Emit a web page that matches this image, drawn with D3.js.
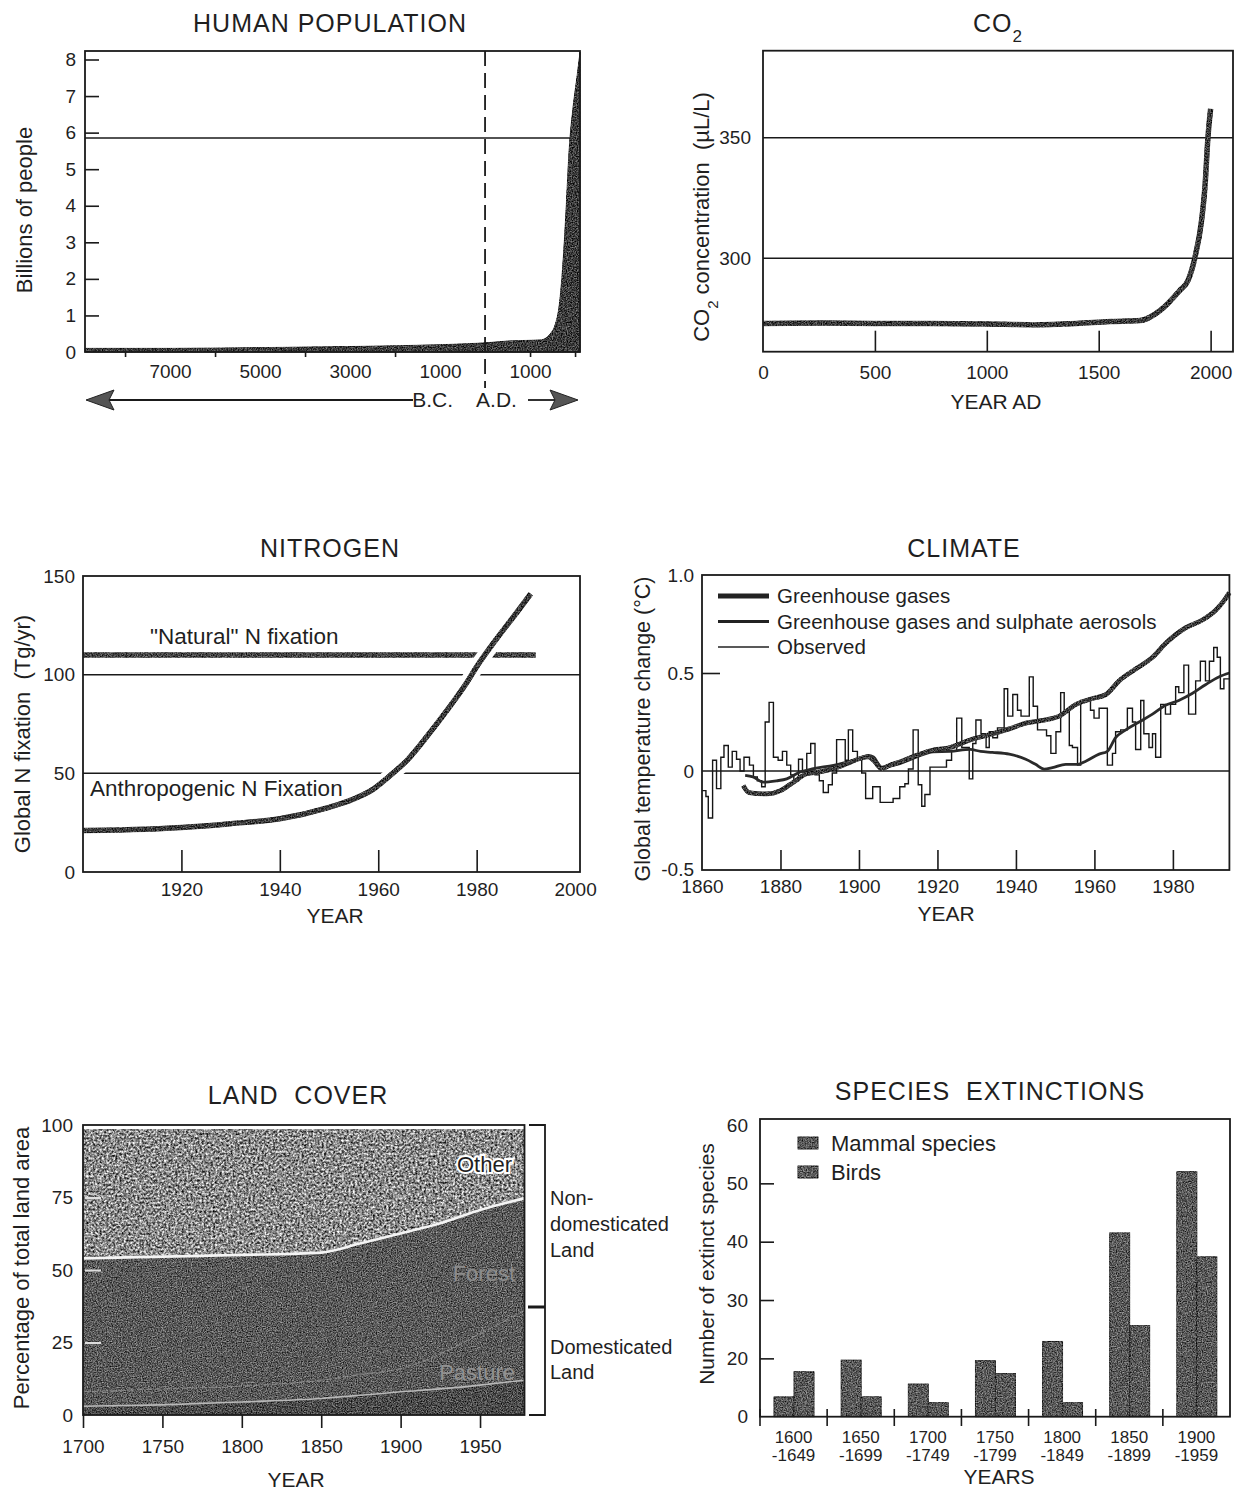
<!DOCTYPE html>
<html>
<head>
<meta charset="utf-8">
<script src="https://cdn.jsdelivr.net/npm/d3@7"></script>
<style>
  body { margin: 0; background: #fff; }
  svg text { font-family: "Liberation Sans", Arial, Helvetica, sans-serif; fill: #1f1f1f; }
  .tick text { font-size: 19px; }
  .tick line { stroke: #1a1a1a; stroke-width: 1.6px; }
  .frame { fill: none; stroke: #1a1a1a; stroke-width: 1.8px; }
  .grid { stroke: #1a1a1a; stroke-width: 1.5px; }
  .title { font-size: 25px; letter-spacing: 1px; text-anchor: middle; white-space: pre; }
  .axlab { font-size: 21px; text-anchor: middle; white-space: pre; }
</style>
</head>
<body>
<script>
// ---------- data ----------
// human population (billions), years as drawn (negative = B.C.)
var popYears  = [-8890, -7000, -5000, -3000, -1000, 0, 500, 1000, 1250, 1320, 1450, 1556, 1650, 1711, 1760, 1800, 1867, 1956, 2040, 2110];
var popValues = [0.1, 0.1, 0.12, 0.15, 0.2, 0.25, 0.3, 0.32, 0.33, 0.36, 0.5, 0.74, 1.3, 2.1, 3.0, 3.9, 5.5, 6.7, 7.5, 8.2];
var popRefLine = 5.85;
var popTickYears  = [-7000, -5000, -3000, -1000, 1000];
var popTickLabels = ["7000", "5000", "3000", "1000", "1000"];
var popMinorYears = [-8000, -6000, -4000, -2000, 1000, 2000];

// CO2 (uL/L)
var co2Years  = [0, 250, 500, 750, 1000, 1200, 1400, 1550, 1684, 1773, 1862, 1900, 1929, 1960, 1975, 1988, 2000];
var co2Values = [273, 273.2, 273, 273, 272.8, 272.5, 273, 273.8, 274.2, 278.3, 286.7, 291, 300, 316, 330, 350, 362];

// nitrogen fixation (Tg/yr)
var nYears  = [1900, 1910, 1920, 1930, 1940, 1950, 1955, 1959, 1962, 1966, 1970, 1974, 1978, 1980, 1984, 1988, 1991];
var nAnthro = [21, 21.5, 22.6, 24.5, 27, 32.8, 37, 42, 48, 57, 69, 82, 96, 104, 118, 131, 141];
var natYears  = [1900, 1992];
var natValues = [110, 110];

// climate (deg C)
var ghgYears  = [1870.5, 1872, 1876.5, 1880, 1883.3, 1886.7, 1890, 1893.5, 1897, 1900.3, 1902.4, 1903.7, 1905.8, 1907.9, 1910.4, 1914.7, 1918.9, 1923.2, 1928.3, 1934.1, 1938.3, 1942.5, 1946.8, 1951, 1955.3, 1959.5, 1962.9, 1966.3, 1970.5, 1974.8, 1978.1, 1983.2, 1987.5, 1990.9, 1993.4, 1994.4];
var ghgValues = [-0.074, -0.11, -0.117, -0.1, -0.057, -0.014, -0.005, 0.012, 0.038, 0.064, 0.072, 0.055, 0.012, 0.03, 0.046, 0.08, 0.107, 0.12, 0.158, 0.19, 0.215, 0.244, 0.258, 0.28, 0.34, 0.37, 0.39, 0.46, 0.52, 0.58, 0.65, 0.73, 0.77, 0.82, 0.88, 0.91];
var aerYears  = [1871, 1873, 1875.6, 1879, 1881.6, 1885, 1888.4, 1893.5, 1897, 1900.3, 1902.4, 1903.7, 1905.8, 1910.4, 1914.7, 1918.9, 1923.2, 1928.3, 1931, 1934, 1938.3, 1942.5, 1945, 1947.2, 1949.3, 1952.7, 1955.7, 1957.8, 1961.2, 1963.3, 1965.4, 1968, 1971.4, 1974.8, 1978.1, 1981.5, 1984.9, 1988.3, 1991.7, 1994.4];
var aerValues = [-0.022, -0.03, -0.057, -0.05, -0.04, -0.005, 0.012, 0.029, 0.046, 0.064, 0.08, 0.072, 0.02, 0.038, 0.072, 0.098, 0.1, 0.11, 0.1, 0.095, 0.086, 0.06, 0.034, 0.01, 0.017, 0.034, 0.034, 0.05, 0.086, 0.1, 0.17, 0.21, 0.25, 0.29, 0.335, 0.36, 0.395, 0.44, 0.48, 0.5];
var obsYears  = [1860, 1861, 1861.6, 1862.7, 1863.7, 1864.8, 1865.6, 1866.7, 1867.7, 1868.8, 1869.7, 1870.7, 1872.1, 1873.1, 1874.1, 1875.2, 1876.1, 1877.1, 1878.2, 1879.4, 1880.5, 1881.6, 1882.6, 1883.4, 1884.6, 1885.6, 1886.7, 1887.7, 1888.8, 1889.9, 1890.9, 1892.2, 1893.2, 1894.3, 1896.5, 1897.3, 1898.4, 1899.6, 1900.7, 1901.7, 1903.5, 1905.4, 1908.7, 1910.4, 1911.7, 1912.6, 1913.8, 1915.1, 1916, 1916.8, 1918.1, 1922.3, 1923.6, 1924.9, 1926.2, 1928.1, 1929, 1929.8, 1931.1, 1932.4, 1933.2, 1934.1, 1935.3, 1937, 1937.9, 1939.2, 1940.4, 1941.3, 1943.4, 1944.4, 1945.5, 1947.8, 1948.9, 1950.2, 1951.4, 1952.3, 1953.6, 1954.4, 1955.7, 1956.5, 1959, 1959.9, 1961.2, 1963.3, 1964.6, 1965.4, 1966.7, 1968.4, 1969.7, 1970.5, 1971.8, 1972.6, 1973.9, 1974.8, 1975.6, 1976.9, 1978.1, 1979.4, 1980.7, 1981.5, 1982.8, 1984, 1985.8, 1987, 1988.3, 1989.3, 1990.4, 1991.3, 1992.1, 1993, 1994.4];
var obsValues = [-0.1, -0.13, -0.24, 0.055, -0.09, 0.07, 0.13, 0.02, 0.1, 0.06, 0, 0.07, 0.03, -0.03, -0.05, -0.08, 0.25, 0.35, 0.07, 0.055, 0.1, 0.03, -0.02, -0.05, 0.06, -0.005, 0.09, 0.14, -0.02, -0.05, -0.11, -0.07, -0.01, 0.16, 0.055, 0.21, 0.1, 0.06, -0.01, -0.14, -0.08, -0.16, -0.14, -0.08, -0.065, 0.01, 0.21, -0.07, -0.18, -0.12, 0.02, 0.055, 0.1, 0.27, 0.12, -0.04, 0.14, 0.26, 0.19, 0.12, 0.2, 0.17, 0.22, 0.42, 0.28, 0.39, 0.31, 0.28, 0.48, 0.33, 0.21, 0.18, 0.09, 0.2, 0.4, 0.31, 0.13, 0.12, 0.03, 0.36, 0.31, 0.27, 0.32, 0.03, 0.09, 0.2, 0.21, 0.32, 0.25, 0.11, 0.36, 0.19, 0.12, 0.19, 0.07, 0.34, 0.29, 0.34, 0.43, 0.4, 0.54, 0.29, 0.46, 0.56, 0.46, 0.56, 0.63, 0.58, 0.42, 0.47, 0.47];
var climLegend = ["Greenhouse gases", "Greenhouse gases and sulphate aerosols", "Observed"];

// land cover (% of total land area, cumulative tops)
var landYears  = [1700, 1750, 1800, 1850, 1875, 1900, 1925, 1950, 1978];
var cropTop    = [3, 3.5, 4.5, 5.7, 6.8, 8, 9, 10.3, 12];
var pastureTop = [8, 9, 10, 12, 14, 16, 21, 28, 36];
var forestTop  = [54, 54.6, 55.2, 56, 59.2, 62.6, 66.1, 70.7, 74.7];
var otherTop   = [98.5, 98.5, 98.5, 98.5, 98.5, 98.5, 98.5, 98.5, 98.5];

// species extinctions (values in the printed grid units)
var periodStart = ["1600", "1650", "1700", "1750", "1800", "1850", "1900"];
var periodEnd   = ["-1649", "-1699", "-1749", "-1799", "-1849", "-1899", "-1959"];
var mammals = [13.4, 19.7, 15.6, 19.6, 22.9, 41.5, 52];
var birds   = [17.7, 13.4, 12.4, 17.4, 12.4, 25.6, 37.4];
var spTickValues = [10, 20, 30, 40, 50, 60];
var spTickLabels = ["0", "20", "30", "40", "50", "60"];

// ---------- helpers ----------
var W = 1242, H = 1492;
var svg = d3.select("body").append("svg").attr("width", W).attr("height", H);
var defs = svg.append("defs");

function grain(id, amount, freq, oct) {
  var f = defs.append("filter").attr("id", id)
    .attr("filterUnits", "userSpaceOnUse").attr("x", 0).attr("y", 0).attr("width", W).attr("height", H)
    .attr("color-interpolation-filters", "sRGB");
  f.append("feTurbulence").attr("type", "fractalNoise").attr("baseFrequency", freq)
    .attr("numOctaves", oct).attr("seed", 5).attr("result", "noise");
  f.append("feColorMatrix").attr("in", "noise").attr("type", "matrix")
    .attr("values", "1 0 0 0 0  1 0 0 0 0  1 0 0 0 0  0 0 0 0 1").attr("result", "gray");
  f.append("feComposite").attr("in", "SourceGraphic").attr("in2", "gray").attr("operator", "arithmetic")
    .attr("k1", 0).attr("k2", 1).attr("k3", amount).attr("k4", -amount / 2).attr("result", "mix");
  f.append("feComposite").attr("in", "mix").attr("in2", "SourceAlpha").attr("operator", "in");
}
grain("grain", 0.9, 0.8, 2);
grain("grainStrong", 1.5, 0.45, 3);

function frame(x0, y0, x1, y1) {
  svg.append("rect").attr("class", "frame")
    .attr("x", x0).attr("y", y0).attr("width", x1 - x0).attr("height", y1 - y0);
}
function hline(x0, x1, yy, cls) {
  return svg.append("line").attr("class", cls || "grid")
    .attr("x1", x0).attr("x2", x1).attr("y1", yy).attr("y2", yy);
}
function title(x, y) {
  return svg.append("text").attr("class", "title").attr("x", x).attr("y", y).attr("dy", "0.35em");
}
function label(x, y, rotate) {
  return svg.append("text").attr("class", "axlab").attr("dy", "0.35em")
    .attr("transform", "translate(" + x + "," + y + ")" + (rotate ? " rotate(-90)" : ""));
}
function axis(gen, tx, ty) {
  var a = svg.append("g").attr("transform", "translate(" + tx + "," + ty + ")").call(gen);
  a.select(".domain").remove();
  a.attr("font-size", null).attr("font-family", null);
  return a;
}
function pairs(xs, ys) { return xs.map(function (d, i) { return [d, ys[i]]; }); }
var plain = d3.format("d");

// ---------- HUMAN POPULATION ----------
var px = d3.scaleLinear().domain([-8890, 2110]).range([85, 580]);
var py = d3.scaleLinear().domain([0, 8]).range([352, 59.5]);

hline(85, 580, py(popRefLine));
svg.append("path").datum(pairs(popYears, popValues))
  .attr("d", d3.area().x(d => px(d[0])).y0(py(0)).y1(d => py(d[1])).curve(d3.curveMonotoneX))
  .attr("fill", "#3c3c3c").attr("stroke", "#2a2a2a").attr("stroke-width", 1)
  .attr("filter", "url(#grain)");
svg.append("line").attr("x1", px(0)).attr("x2", px(0)).attr("y1", 51).attr("y2", 388)
  .attr("stroke", "#1a1a1a").attr("stroke-width", 1.8).attr("stroke-dasharray", "15,7");
frame(85, 51, 580, 352);

var pya = axis(d3.axisLeft(py).tickValues(d3.range(0, 9)).tickSizeInner(-14).tickSizeOuter(0).tickPadding(9), 85, 0);
pya.selectAll(".tick").filter(d => d === 0).select("line").remove();
axis(d3.axisBottom(px).tickValues(popTickYears).tickFormat((d, i) => popTickLabels[i]).tickSize(0).tickPadding(13), 0, 352);
axis(d3.axisBottom(px).tickValues(popMinorYears).tickFormat("").tickSizeInner(5).tickSizeOuter(0), 0, 352);

// B.C. / A.D. arrows
svg.append("line").attr("x1", 108).attr("x2", 413).attr("y1", 400).attr("y2", 400).attr("stroke", "#1a1a1a").attr("stroke-width", 1.8);
svg.append("path").attr("d", "M86,400 L114,390 L109,400 L114,410 Z").attr("fill", "#555").attr("stroke", "#222");
svg.append("line").attr("x1", 528).attr("x2", 556).attr("y1", 400).attr("y2", 400).attr("stroke", "#1a1a1a").attr("stroke-width", 1.8);
svg.append("path").attr("d", "M578,400 L550,390 L555,400 L550,410 Z").attr("fill", "#555").attr("stroke", "#222");
svg.append("text").attr("x", px(0) - 32).attr("y", 400).attr("dy", "0.35em").attr("text-anchor", "end")
  .style("font-size", "21px").text("B.C.");
svg.append("text").attr("x", px(0) - 9).attr("y", 400).attr("dy", "0.35em")
  .style("font-size", "21px").text("A.D.");

title(330, 23).text("HUMAN POPULATION");
label(24, 210, true).style("font-size", "22px").text("Billions of people");

// ---------- CO2 ----------
var cx = d3.scaleLinear().domain([0, 2100]).range([763, 1233]);
var cy = d3.scaleLinear().domain([261.3, 386.1]).range([351.7, 50.7]);

[300, 350].forEach(v => hline(763, 1233, cy(v)));
svg.append("path").datum(pairs(co2Years, co2Values))
  .attr("d", d3.line().x(d => cx(d[0])).y(d => cy(d[1])).curve(d3.curveMonotoneX))
  .attr("fill", "none").attr("stroke", "#3a3a3a").attr("stroke-width", 5.5)
  .attr("filter", "url(#grain)");
frame(763, 50.7, 1233, 351.7);
axis(d3.axisBottom(cx).tickValues([500, 1000, 1500, 2000]).tickFormat("").tickSizeInner(-21).tickSizeOuter(0), 0, 351.7);
axis(d3.axisBottom(cx).tickValues([0, 500, 1000, 1500, 2000]).tickFormat(plain).tickSize(0).tickPadding(14), 0, 351.7);
axis(d3.axisLeft(cy).tickValues([300, 350]).tickFormat(plain).tickSize(0).tickPadding(12), 763, 0);

var ct = title(998, 23).text("CO");
ct.append("tspan").attr("baseline-shift", "sub").style("font-size", "17px").text("2");
var cl = label(701, 217, true).style("font-size", "22px").text("CO");
cl.append("tspan").attr("baseline-shift", "sub").style("font-size", "15px").text("2");
cl.append("tspan").text(" concentration  (\u00b5L/L)");
label(996, 402).style("font-size", "21px").text("YEAR AD");

// ---------- NITROGEN ----------
var nx = d3.scaleLinear().domain([1900, 2001]).range([83, 580]);
var ny = d3.scaleLinear().domain([0, 150]).range([872, 576]);

[50, 100].forEach(v => hline(83, 580, ny(v)));
svg.append("path").datum(pairs(natYears, natValues))
  .attr("d", d3.line().x(d => nx(d[0])).y(d => ny(d[1])))
  .attr("fill", "none").attr("stroke", "#444").attr("stroke-width", 5.5).attr("filter", "url(#grain)");
var nLine = d3.line().x(d => nx(d[0])).y(d => ny(d[1])).curve(d3.curveMonotoneX);
svg.append("path").datum(pairs(nYears, nAnthro)).attr("d", nLine)
  .attr("fill", "none").attr("stroke", "#fff").attr("stroke-width", 15);
svg.append("path").datum(pairs(nYears, nAnthro)).attr("d", nLine)
  .attr("fill", "none").attr("stroke", "#3a3a3a").attr("stroke-width", 5.5).attr("filter", "url(#grain)");
frame(83, 576, 580, 872);
axis(d3.axisBottom(nx).tickValues([1920, 1940, 1960, 1980]).tickFormat("").tickSizeInner(-22).tickSizeOuter(0), 0, 872);
axis(d3.axisBottom(nx).tickValues([1920, 1940, 1960, 1980, 2000]).tickFormat(plain).tickSize(0).tickPadding(11), 0, 872);
axis(d3.axisLeft(ny).tickValues([0, 50, 100, 150]).tickFormat(plain).tickSize(0).tickPadding(8), 83, 0);

svg.append("text").attr("x", 150).attr("y", 636).attr("dy", "0.35em").style("font-size", "22.5px").text("\"Natural\" N fixation");
svg.append("text").attr("x", 90).attr("y", 788).attr("dy", "0.35em").style("font-size", "22.5px").text("Anthropogenic N Fixation");
title(330, 548).text("NITROGEN");
label(22, 734, true).style("font-size", "22px").text("Global N fixation  (Tg/yr)");
label(335, 916).style("font-size", "21px").text("YEAR");

// ---------- CLIMATE ----------
var tx = d3.scaleLinear().domain([1860, 1994.4]).range([702, 1229.4]);
var ty = d3.scaleLinear().domain([-0.5, 1.0]).range([869, 575]);

hline(702, 1229.4, ty(0));
svg.append("path").datum(pairs(obsYears, obsValues))
  .attr("d", d3.line().x(d => tx(d[0])).y(d => ty(d[1])).curve(d3.curveStepAfter))
  .attr("fill", "none").attr("stroke", "#151515").attr("stroke-width", 1.4);
svg.append("path").datum(pairs(aerYears, aerValues))
  .attr("d", d3.line().x(d => tx(d[0])).y(d => ty(d[1])).curve(d3.curveMonotoneX))
  .attr("fill", "none").attr("stroke", "#2a2a2a").attr("stroke-width", 2.8);
svg.append("path").datum(pairs(ghgYears, ghgValues))
  .attr("d", d3.line().x(d => tx(d[0])).y(d => ty(d[1])).curve(d3.curveMonotoneX))
  .attr("fill", "none").attr("stroke", "#3a3a3a").attr("stroke-width", 4.8).attr("filter", "url(#grain)");
frame(702, 575, 1229.4, 870);
axis(d3.axisBottom(tx).tickValues(d3.range(1880, 1981, 20)).tickFormat("").tickSizeInner(-20).tickSizeOuter(0), 0, 870);
axis(d3.axisBottom(tx).tickValues(d3.range(1860, 1981, 20)).tickFormat(plain).tickSize(0).tickPadding(10), 0, 870);
var tya = axis(d3.axisLeft(ty).tickValues([-0.5, 0, 0.5, 1.0])
  .tickFormat(d => d === 0 ? "0" : d.toFixed(1))
  .tickSizeInner(-18).tickSizeOuter(0).tickPadding(8), 702, 0);
tya.selectAll(".tick").filter(d => d !== 0.5).select("line").remove();

var legW = [4.8, 2.8, 1.4];
climLegend.forEach(function (s, i) {
  var yy = 596 + i * 25.5;
  svg.append("line").attr("x1", 718).attr("x2", 769).attr("y1", yy).attr("y2", yy)
    .attr("stroke", "#222").attr("stroke-width", legW[i]);
  svg.append("text").attr("x", 777).attr("y", yy).attr("dy", "0.35em").style("font-size", "20.5px").text(s);
});
title(964, 548).text("CLIMATE");
label(642, 729, true).style("font-size", "21.5px").text("Global temperature change (\u00b0C)");
label(946, 914).style("font-size", "21px").text("YEAR");

// ---------- LAND COVER ----------
var lx = d3.scaleLinear().domain([1700, 1978]).range([83, 524.5]);
var ly = d3.scaleLinear().domain([0, 100]).range([1415, 1125]);
var layers = [
  { lo: null, hi: cropTop, fill: "#4a4a4a", f: "grain" },
  { lo: cropTop, hi: pastureTop, fill: "#585858", f: "grain" },
  { lo: pastureTop, hi: forestTop, fill: "#595959", f: "grain" },
  { lo: forestTop, hi: otherTop, fill: "#8a8a8a", f: "grainStrong" }
];
layers.forEach(function (L) {
  var ar = d3.area().x((d, i) => lx(landYears[i]))
    .y0((d, i) => ly(L.lo ? L.lo[i] : 0)).y1(d => ly(d)).curve(d3.curveMonotoneX);
  svg.append("path").datum(L.hi).attr("d", ar).attr("fill", L.fill).attr("filter", "url(#" + L.f + ")");
});
var landLine = d3.line().x((d, i) => lx(landYears[i])).y(d => ly(d)).curve(d3.curveMonotoneX);
svg.append("path").datum(forestTop).attr("d", landLine).attr("fill", "none").attr("stroke", "#f4f4f4").attr("stroke-width", 2.6);
svg.append("path").datum(cropTop).attr("d", landLine).attr("fill", "none").attr("stroke", "#b8b8b8").attr("stroke-width", 1.6);
svg.append("path").datum(pastureTop).attr("d", landLine).attr("fill", "none").attr("stroke", "#999").attr("stroke-width", 1.3)
  .attr("stroke-dasharray", "6,3").attr("opacity", 0.6);
frame(83, 1125, 524.5, 1415);
axis(d3.axisBottom(lx).tickValues(d3.range(1700, 1951, 50)).tickFormat(plain).tickSizeInner(13).tickSizeOuter(0).tickPadding(12), 0, 1415);
axis(d3.axisLeft(ly).tickValues([0, 25, 50, 75, 100]).tickFormat(plain).tickSize(0).tickPadding(10), 83, 0);
axis(d3.axisLeft(ly).tickValues([25, 50, 75]).tickFormat("").tickSizeInner(-16).tickSizeOuter(0), 85, 0)
  .selectAll("line").style("stroke", "#ddd").style("stroke-width", "2px");

// bracket on the right
svg.append("path").attr("d", "M529," + ly(100) + " H545 V" + ly(0) + " H529")
  .attr("fill", "none").attr("stroke", "#1a1a1a").attr("stroke-width", 1.8);
svg.append("line").attr("x1", 528).attr("x2", 545).attr("y1", 1307).attr("y2", 1307)
  .attr("stroke", "#1a1a1a").attr("stroke-width", 3);
[["Non-", 1198], ["domesticated", 1224], ["Land", 1250], ["Domesticated", 1347], ["Land", 1372]].forEach(function (t) {
  svg.append("text").attr("x", 550).attr("y", t[1]).attr("dy", "0.35em").style("font-size", "20px").text(t[0]);
});
svg.append("text").attr("x", 512).attr("y", 1164).attr("dy", "0.35em").attr("text-anchor", "end")
  .style("font-size", "22px").style("paint-order", "stroke").style("stroke", "#fff").style("stroke-width", "4px")
  .text("Other");
svg.append("text").attr("x", 515).attr("y", 1273).attr("dy", "0.35em").attr("text-anchor", "end")
  .style("font-size", "22px").style("fill", "#8c8c8c").text("Forest");
svg.append("text").attr("x", 515).attr("y", 1372).attr("dy", "0.35em").attr("text-anchor", "end")
  .style("font-size", "22px").style("fill", "#929292").text("Pasture");
title(298, 1095).text("LAND  COVER");
label(21, 1268, true).style("font-size", "22px").text("Percentage of total land area");
label(296, 1480).style("font-size", "21px").text("YEAR");

// ---------- SPECIES EXTINCTIONS ----------
var sx = d3.scaleBand().domain(periodStart).range([760, 1230]);
var sx1 = d3.scaleBand().domain(["mammals", "birds"]).range([14, 54]);
var sy = d3.scaleLinear().domain([10, 60]).range([1416.7, 1125]);
var spData = periodStart.map((p, i) => ({ p: p, mammals: mammals[i], birds: birds[i] }));

var grp = svg.append("g").selectAll("g").data(spData).enter().append("g");
grp.selectAll("rect").data(d => ["mammals", "birds"].map(k => ({ k: k, v: d[k], p: d.p }))).enter().append("rect")
  .attr("x", d => sx(d.p) + sx1(d.k)).attr("width", sx1.bandwidth())
  .attr("y", d => sy(d.v)).attr("height", d => sy(10) - sy(d.v))
  .attr("fill", "#595959").attr("stroke", "#333").attr("stroke-width", 1)
  .attr("filter", "url(#grain)");
frame(760, 1119, 1230, 1416.7);
svg.append("g").selectAll("line").data(periodStart).enter().append("line")
  .attr("x1", d => sx(d)).attr("x2", d => sx(d)).attr("y1", 1409).attr("y2", 1426)
  .attr("stroke", "#1a1a1a").attr("stroke-width", 1.6);
axis(d3.axisLeft(sy).tickValues(spTickValues).tickFormat((d, i) => spTickLabels[i])
  .tickSizeInner(-14).tickSizeOuter(0).tickPadding(12), 760, 0)
  .selectAll(".tick").filter(d => d === 10 || d === 60).select("line").remove();
svg.append("g").selectAll("text").data(periodStart).enter().append("text")
  .attr("x", d => sx(d) + sx.bandwidth() / 2).attr("y", 1437).attr("dy", "0.35em")
  .attr("text-anchor", "middle").style("font-size", "17px").text(d => d);
svg.append("g").selectAll("text").data(periodEnd).enter().append("text")
  .attr("x", (d, i) => sx(periodStart[i]) + sx.bandwidth() / 2).attr("y", 1455).attr("dy", "0.35em")
  .attr("text-anchor", "middle").style("font-size", "17px").text(d => d);

[["Mammal species", 1143], ["Birds", 1172]].forEach(function (t) {
  svg.append("rect").attr("x", 798).attr("y", t[1] - 6).attr("width", 20).attr("height", 12)
    .attr("fill", "#595959").attr("stroke", "#333").attr("filter", "url(#grain)");
  svg.append("text").attr("x", 831).attr("y", t[1]).attr("dy", "0.35em").style("font-size", "22px").text(t[0]);
});
title(990, 1091).text("SPECIES  EXTINCTIONS");
label(707, 1264, true).style("font-size", "21px").text("Number of extinct species");
label(999, 1477).style("font-size", "21px").text("YEARS");
</script>
</body>
</html>
